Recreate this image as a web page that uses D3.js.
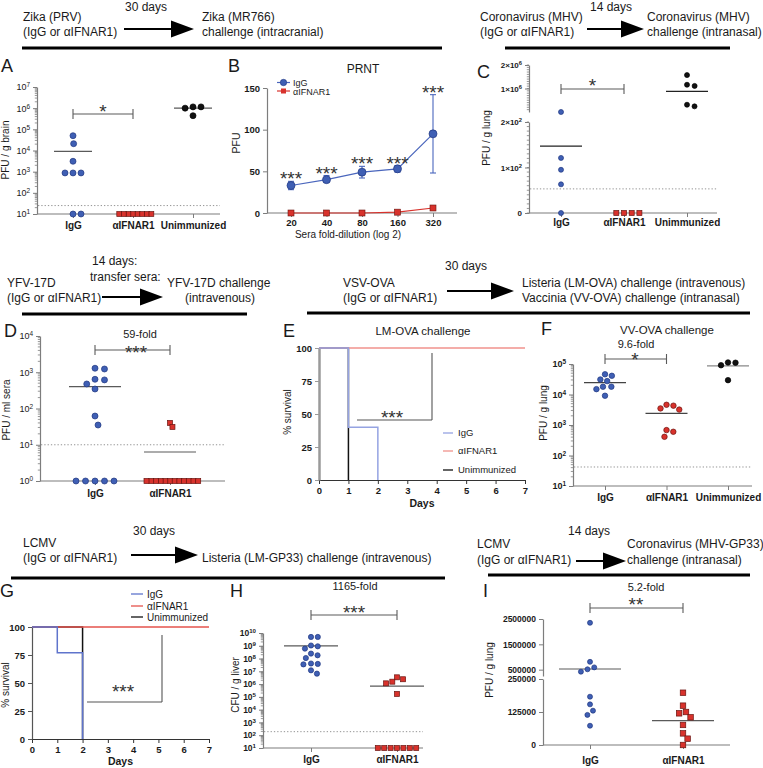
<!DOCTYPE html>
<html><head><meta charset="utf-8">
<script src="https://cdn.jsdelivr.net/npm/d3@7"></script>
<style>body{margin:0;background:#fff}svg{font-family:'Liberation Sans',Arial,Helvetica,sans-serif}</style>
</head><body>
<svg id="fig" width="763" height="768"></svg>
<script>
// ================= DATA =================
const groups3 = ["IgG", "αIFNAR1", "Unimmunized"];
const groups2 = ["IgG", "αIFNAR1"];

// A: Zika PFU / g brain
const aIgG = [5e4, 2.1e4, 3.1e3, 870, 870, 870, 10, 10];
const aAnti = [10, 10, 10, 10, 10, 10, 10, 10];
const aUnimm = [1.15e6, 1.0e6, 1.15e6, 4.4e5];
const aMedians = [9e3, null, 1e6];
const aLimit = 25;
const aTicks = [1e1, 1e2, 1e3, 1e4, 1e5, 1e6, 1e7];

// B: PRNT
const bDilutions = ["20", "40", "80", "160", "320"];
const bIgG = [33, 40, 49, 53, 95];
const bIgGLo = [28, 37, 42, 49, 48];
const bIgGHi = [38, 45, 56, 57, 142];
const bAnti = [0, 0, 0, 1, 6];
const bTicks = [0, 50, 100, 150];

// C: MHV PFU / g lung (broken axis)
const cIgG = [250, 121, 95, 63, 0];
const cAnti = [0, 0, 0, 0];
const cUnimm = [1.57e6, 1.16e6, 1.11e6, 3.1e5, 2.4e5];
const cMedians = [147, null, 8.8e5];
const cLimit = 53;
const cTicksLow = [0, 100, 200];
const cTicksHigh = [1e6, 2e6];

// D: YFV PFU / ml sera
const dIgG = [1230, 1290, 615, 475, 640, 345, 62, 35, 1, 1, 1, 1, 1];
const dAnti = [40, 31, 1, 1, 1, 1, 1, 1, 1, 1, 1, 1, 1, 1];
const dMedians = [400, 6.3];
const dLimit = 10;
const dTicks = [1, 10, 100, 1e3, 1e4];

// E: LM-OVA survival
const survDays = [0, 1, 2, 3, 4, 5, 6, 7];
const survTicks = [0, 25, 50, 75, 100];
const eIgGT = [0, 1, 2], eIgGS = [100, 40, 0];
const eAntiT = [0, 7], eAntiS = [100, 100];
const eUnT = [0, 1], eUnS = [100, 0];

// F: VV-OVA PFU / g lung
const fIgG = [3.1e4, 4.1e4, 4.6e4, 2.75e4, 1.8e4, 1.8e4, 1.5e4, 9.1e3];
const fAnti = [4.6e3, 3.5e3, 3.2e3, 4.3e3, 680, 600, 410];
const fUnimm = [1.1e5, 9.1e4, 1.12e5, 2.95e4];
const fMedians = [2.45e4, 2.4e3, 8.7e4];
const fLimit = 42;
const fTicks = [1e1, 1e2, 1e3, 1e4, 1e5];

// G: LM-GP33 survival
const gIgGT = [0, 1, 2], gIgGS = [100, 77, 0];
const gAntiT = [0, 7], gAntiS = [100, 100];
const gUnT = [0, 2], gUnS = [100, 0];

// H: CFU / g liver
const hIgG = [4.9e9, 4.9e9, 9.1e8, 1.05e9, 6e8, 2.45e8, 1.8e8, 1.1e8, 3.8e7, 3.5e7, 4.1e7, 1.2e7, 6.6e6];
const hAnti = [2.4e6, 1.15e6, 1.55e6, 3.4e6, 1.7e5, 10, 10, 10, 10, 10, 10, 10];
const hMedians = [1e9, 7e5];
const hLimit = 190;
const hTicks = [1e1, 1e2, 1e3, 1e4, 1e5, 1e6, 1e7, 1e8, 1e9, 1e10];

// I: MHV-GP33 PFU / g lung (broken axis)
const iIgG = [2.35e6, 8.1e5, 5.9e5, 4.2e5, 5.15e5, 1.83e5, 1.54e5, 1.3e5, 1.14e5, 7.3e4];
const iAnti = [1.98e5, 1.49e5, 1.25e5, 1.2e5, 1.05e5, 7.6e4, 4.4e4, 2.4e4, 0];
const iMedians = [5.26e5, 9.2e4];
const iTicksLow = [0, 125000, 250000];
const iTicksHigh = [500000, 1500000, 2500000];

// ================= HELPERS =================
const svg = d3.select("#fig");
svg.append("rect").attr("width", 763).attr("height", 768).attr("fill", "#fff");
const FONT = "'Liberation Sans', Arial, Helvetica, sans-serif";
const INK = "#1a1a1a", AXC = "#7d7d7d", MED = "#5a5a5a";
const BLUE = "#3f5fb4", BLUES = "#1f3680", RED = "#d8322c", REDS = "#6a1410", BLK = "#111";

function txt(x, y, s, o = {}) {
  const t = svg.append("text").attr("x", x).attr("y", y)
    .attr("font-size", o.size || 12).attr("font-weight", o.weight || "normal")
    .attr("text-anchor", o.anchor || "start").attr("fill", o.fill || INK).text(s);
  if (o.rot) t.attr("transform", `rotate(-90,${x},${y})`);
  return t;
}
function arrow(x1, x2, y) {
  svg.append("line").attr("x1", x1).attr("x2", x2 - 20).attr("y1", y).attr("y2", y)
    .attr("stroke", "#000").attr("stroke-width", 2);
  svg.append("path").attr("d", `M${x2 - 23},${y - 8.5}L${x2},${y}L${x2 - 23},${y + 8.5}Z`).attr("fill", "#000");
}
function rule(x1, x2, y) {
  svg.append("line").attr("x1", x1).attr("x2", x2).attr("y1", y).attr("y2", y)
    .attr("stroke", "#000").attr("stroke-width", 3);
}
function styleAx(g, size, bold, col) {
  g.attr("font-family", FONT).attr("font-size", size).attr("color", col || AXC);
  g.selectAll(".tick text").attr("fill", INK).attr("font-weight", bold ? "bold" : "normal");
  g.select(".domain").attr("stroke-width", 1.2);
}
function supTicks(g, fn) {
  g.selectAll(".tick text").each(function (d) {
    const t = d3.select(this); t.text(null);
    const [base, sup] = fn(d);
    t.append("tspan").text(base);
    if (sup !== null) t.append("tspan").attr("dy", "-0.45em").attr("font-size", "0.72em").text(sup);
  });
}
function leftAxis(x, scale, ticks, o = {}) {
  const g = svg.append("g").attr("transform", `translate(${x},0)`)
    .call(d3.axisLeft(scale).tickValues(ticks).tickSize(o.tick || 4).tickPadding(o.pad || 3).tickSizeOuter(0));
  styleAx(g, o.size || 9, o.bold, o.col);
  if (o.dw) g.select(".domain").attr("stroke-width", o.dw);
  if (o.fmt) supTicks(g, o.fmt);
  if (o.minor) {
    g.selectAll(".minor").data(o.minor).join("line").attr("class", "minor")
      .attr("x1", 0).attr("x2", -2.2).attr("y1", d => scale(d)).attr("y2", d => scale(d))
      .attr("stroke", o.col || AXC).attr("stroke-width", 0.8);
  }
  return g;
}
function logMinor(lo, hi) {
  const out = [];
  for (let e = Math.log10(lo); e < Math.log10(hi); e++)
    for (let m = 2; m <= 9; m++) out.push(m * Math.pow(10, e));
  return out;
}
const logFmt = d => ["10", String(Math.round(Math.log10(d)))];
function catAxis(y, xs, x0, x1, o = {}) {
  const g = svg.append("g").attr("transform", `translate(0,${y})`)
    .call(d3.axisBottom(xs).tickSize(4).tickPadding(o.pad == null ? 4 : o.pad).tickSizeOuter(0));
  g.select(".domain").remove();
  styleAx(g, o.size || 10, true);
  g.append("line").attr("x1", x0).attr("x2", x1).attr("stroke", AXC).attr("stroke-width", 1.2);
  return g;
}
function swarm(vals, yFn, cx, dist) {
  const pts = vals.map(v => ({ v, y: yFn(v) })).sort((a, b) => a.y - b.y);
  const placed = [];
  pts.forEach(p => {
    const cands = [0];
    placed.forEach(q => {
      const dy = p.y - q.y;
      if (Math.abs(dy) < dist) {
        const dx = Math.sqrt(dist * dist - dy * dy);
        cands.push(q.off + dx, q.off - dx);
      }
    });
    cands.sort((a, b) => Math.abs(a) - Math.abs(b) || b - a);
    for (const c of cands) {
      if (placed.every(q => (c - q.off) ** 2 + (p.y - q.y) ** 2 >= dist * dist - 0.01)) { p.off = c; break; }
    }
    placed.push(p);
  });
  return placed.map(p => ({ v: p.v, x: cx + p.off, y: p.y }));
}
function drawPts(vals, yFn, cx, shape, fill, stroke, size, dist) {
  const pts = swarm(vals, yFn, cx, dist);
  if (shape === "circle") {
    svg.append("g").selectAll("circle").data(pts).join("circle")
      .attr("cx", d => d.x).attr("cy", d => d.y).attr("r", size / 2)
      .attr("fill", fill).attr("stroke", stroke).attr("stroke-width", 0.7);
  } else {
    svg.append("g").selectAll("rect").data(pts).join("rect")
      .attr("x", d => d.x - size / 2).attr("y", d => d.y - size / 2).attr("width", size).attr("height", size)
      .attr("fill", fill).attr("stroke", stroke).attr("stroke-width", 0.7);
  }
}
function median(v, yFn, cx, hw, col) {
  if (v == null) return;
  svg.append("line").attr("x1", cx - hw).attr("x2", cx + hw).attr("y1", yFn(v)).attr("y2", yFn(v))
    .attr("stroke", col || MED).attr("stroke-width", 1.2);
}
function limit(y, x0, x1) {
  svg.append("line").attr("x1", x0).attr("x2", x1).attr("y1", y).attr("y2", y)
    .attr("stroke", "#888").attr("stroke-width", 0.9).attr("stroke-dasharray", "1.3,2");
}
function bracket(x1, x2, y) {
  const g = svg.append("g").attr("stroke", MED).attr("stroke-width", 1.1);
  g.append("line").attr("x1", x1).attr("x2", x2).attr("y1", y).attr("y2", y);
  g.append("line").attr("x1", x1).attr("x2", x1).attr("y1", y - 5).attr("y2", y + 5);
  g.append("line").attr("x1", x2).attr("x2", x2).attr("y1", y - 5).attr("y2", y + 5);
}
function stars(x, y, s) { txt(x, y, s, { size: 19, anchor: "middle", fill: "#333" }); }

// ================= HEADERS =================
txt(23, 21, "Zika (PRV)"); txt(23, 36, "(IgG or αIFNAR1)");
txt(125, 11, "30 days"); arrow(124, 194, 29);
txt(202, 21, "Zika (MR766)"); txt(202, 36, "challenge (intracranial)");
rule(22, 442, 48);

txt(480, 21, "Coronavirus (MHV)"); txt(480, 36, "(IgG or αIFNAR1)");
txt(590, 11, "14 days"); arrow(587, 644, 29);
txt(647, 21, "Coronavirus (MHV)"); txt(647, 36, "challenge (intranasal)");
rule(505, 730, 48);

txt(92, 265, "14 days:"); txt(90, 281, "transfer sera:");
txt(7, 287, "YFV-17D"); txt(7, 302, "(IgG or αIFNAR1)");
arrow(102, 163, 297);
txt(167, 287, "YFV-17D challenge"); txt(185, 302, "(intravenous)");
rule(22, 247, 314);

txt(445, 270, "30 days");
txt(343, 287, "VSV-OVA"); txt(343, 302, "(IgG or αIFNAR1)");
arrow(447, 514, 291);
txt(522, 287, "Listeria (LM-OVA) challenge (intravenous)");
txt(522, 302, "Vaccinia (VV-OVA) challenge (intranasal)");
rule(307, 750, 313);

txt(133, 535, "30 days");
txt(23, 547, "LCMV"); txt(23, 562, "(IgG or αIFNAR1)");
arrow(131, 198, 555);
txt(202, 562, "Listeria (LM-GP33) challenge (intravenous)");
rule(11, 445, 578);

txt(568, 535, "14 days");
txt(477, 548, "LCMV"); txt(477, 564, "(IgG or αIFNAR1)");
arrow(576, 626, 561);
txt(627, 548, "Coronavirus (MHV-GP33)"); txt(627, 564, "challenge (intranasal)");
rule(488, 750, 575);

// panel letters
[["A", 1, 72], ["B", 228, 72], ["C", 477, 78], ["D", 4, 337], ["E", 283, 337], ["F", 541, 335],
 ["G", 0, 597], ["H", 230, 597], ["I", 483, 597]].forEach(([l, x, y]) => txt(x, y, l, { size: 18 }));

// ================= PANEL A =================
{
  const y = d3.scaleLog().domain([10, 1e7]).range([214, 87]);
  const x = d3.scalePoint().domain(groups3).range([73, 193]);
  leftAxis(37, y, aTicks, { fmt: logFmt, minor: logMinor(10, 1e7), size: 9 });
  catAxis(214, x, 37, 220, { pad: 4 });
  limit(y(aLimit), 38, 220);
  groups3.forEach((gname, i) => median(aMedians[i], y, x(gname), 19));
  drawPts(aIgG, y, x("IgG"), "circle", BLUE, BLUES, 6, 8);
  drawPts(aAnti, y, x("αIFNAR1"), "rect", RED, REDS, 4.8, 4.6);
  drawPts(aUnimm, y, x("Unimmunized"), "circle", BLK, "#000", 6, 8);
  bracket(x("IgG"), x("αIFNAR1"), 114);
  stars((x("IgG") + x("αIFNAR1")) / 2, 118, "*");
  txt(8.5, 150, "PFU / g brain", { size: 10, rot: true, anchor: "middle" });
}

// ================= PANEL B =================
{
  const y = d3.scaleLinear().domain([0, 150]).range([213, 88]);
  const x = d3.scalePoint().domain(bDilutions).range([291, 433]);
  leftAxis(267, y, bTicks, { bold: true, size: 9.5 });
  catAxis(213, x, 267, 457, { pad: 2.5, size: 9.5 });
  txt(348, 238, "Sera fold-dilution (log 2)", { size: 10, anchor: "middle" });
  txt(240, 143, "PFU", { size: 10.5, rot: true, anchor: "middle" });
  txt(363, 73, "PRNT", { size: 12, anchor: "middle" });
  const line = d3.line().x((d, i) => x(bDilutions[i])).y(d => y(d));
  svg.append("path").attr("d", line(bAnti)).attr("fill", "none").attr("stroke", RED).attr("stroke-width", 1.2);
  svg.append("path").attr("d", line(bIgG)).attr("fill", "none").attr("stroke", "#4a66bd").attr("stroke-width", 1.2);
  const eb = svg.append("g").attr("stroke", "#4a66bd").attr("stroke-width", 1.1);
  bDilutions.forEach((dl, i) => {
    const cx = x(dl);
    eb.append("line").attr("x1", cx).attr("x2", cx).attr("y1", y(bIgGLo[i])).attr("y2", y(bIgGHi[i]));
    [bIgGLo[i], bIgGHi[i]].forEach(v => eb.append("line").attr("x1", cx - 3).attr("x2", cx + 3).attr("y1", y(v)).attr("y2", y(v)));
    stars(cx, y(bIgGHi[i]) + 4, "***");
  });
  svg.append("g").selectAll("circle").data(bIgG).join("circle")
    .attr("cx", (d, i) => x(bDilutions[i])).attr("cy", d => y(d)).attr("r", 4)
    .attr("fill", BLUE).attr("stroke", BLUES).attr("stroke-width", 0.7);
  svg.append("g").selectAll("rect").data(bAnti).join("rect")
    .attr("x", (d, i) => x(bDilutions[i]) - 3).attr("y", d => y(d) - 3).attr("width", 6).attr("height", 6)
    .attr("fill", RED).attr("stroke", REDS).attr("stroke-width", 0.6);
  // legend
  svg.append("line").attr("x1", 277).attr("x2", 290).attr("y1", 82.5).attr("y2", 82.5).attr("stroke", "#4a66bd").attr("stroke-width", 1.2);
  svg.append("circle").attr("cx", 283.5).attr("cy", 82.5).attr("r", 3.2).attr("fill", BLUE).attr("stroke", BLUES).attr("stroke-width", 0.6);
  svg.append("line").attr("x1", 277).attr("x2", 290).attr("y1", 91).attr("y2", 91).attr("stroke", RED).attr("stroke-width", 1.2);
  svg.append("rect").attr("x", 281).attr("y", 88.5).attr("width", 5).attr("height", 5).attr("fill", RED);
  txt(293, 85.5, "IgG", { size: 9 });
  txt(293, 94.5, "αIFNAR1", { size: 9 });
}

// ================= PANEL C =================
{
  const yl = d3.scaleLinear().domain([0, 200]).range([213, 122]);
  const yu = d3.scaleLinear().domain([200, 2e6]).range([112, 65]);
  const y = v => (v <= 200 ? yl(v) : yu(v));
  const x = d3.scalePoint().domain(groups3).range([561, 687]);
  leftAxis(529, yl, cTicksLow, { bold: true, size: 8, minor: d3.range(0, 201, 10),
    fmt: d => (d === 0 ? ["0", null] : [`${d / 100}×10`, "2"]) });
  leftAxis(529, yu, cTicksHigh, { bold: true, size: 8, minor: d3.range(1e5, 2e6 + 1, 1e5),
    fmt: d => [`${d / 1e6}×10`, "6"] });
  catAxis(213, x, 529, 717, { pad: 2 });
  limit(y(cLimit), 530, 717);
  groups3.forEach((gname, i) => median(cMedians[i], y, x(gname), 21, "#222"));
  drawPts(cIgG, y, x("IgG"), "circle", BLUE, BLUES, 5, 7);
  drawPts(cAnti, y, x("αIFNAR1"), "rect", RED, REDS, 5, 7.7);
  drawPts(cUnimm, y, x("Unimmunized"), "circle", BLK, "#000", 5, 7.7);
  bracket(x("IgG"), x("αIFNAR1"), 89);
  stars((x("IgG") + x("αIFNAR1")) / 2, 92, "*");
  txt(490, 138, "PFU / g lung", { size: 10, rot: true, anchor: "middle" });
}

// ================= PANEL D =================
{
  const y = d3.scaleLog().domain([1, 1e4]).range([481, 336]);
  const x = d3.scalePoint().domain(groups2).range([95, 170]);
  leftAxis(40, y, dTicks, { fmt: logFmt, minor: logMinor(1, 1e4), size: 9 });
  catAxis(481, x, 40, 225, { pad: 5 });
  limit(y(dLimit), 41, 225);
  groups2.forEach((gname, i) => median(dMedians[i], y, x(gname), 26));
  drawPts(dIgG, y, x("IgG"), "circle", BLUE, BLUES, 6, 9.5);
  drawPts(dAnti, y, x("αIFNAR1"), "rect", RED, REDS, 5, 4.7);
  bracket(x("IgG"), x("αIFNAR1"), 350);
  txt(140, 338, "59-fold", { size: 11, anchor: "middle" });
  stars(136, 359, "***");
  txt(10, 410, "PFU / ml sera", { size: 10, rot: true, anchor: "middle" });
}

// ================= SURVIVAL PANELS =================
function survival(o) {
  const x = d3.scaleLinear().domain([0, 7]).range(o.xr);
  const y = d3.scaleLinear().domain([0, 100]).range(o.yr);
  const gx = svg.append("g").attr("transform", `translate(0,${o.yr[0]})`)
    .call(d3.axisBottom(x).tickValues(survDays).tickFormat(d3.format("d")).tickSize(4).tickPadding(3).tickSizeOuter(0));
  styleAx(gx, 9.5, true, "#333");
  const gy = svg.append("g").attr("transform", `translate(${o.xr[0]},0)`)
    .call(d3.axisLeft(y).tickValues(survTicks).tickFormat(d3.format("d")).tickSize(4).tickPadding(3).tickSizeOuter(0));
  styleAx(gy, 9.5, true, o.ycol);
  gy.select(".domain").attr("stroke-width", o.yw);
  const line = d3.line().curve(d3.curveStepAfter).x(d => x(d[0])).y(d => y(d[1]));
  const series = [[o.unT, o.unS, "#111"], [o.antiT, o.antiS, o.redC], [o.igT, o.igS, o.blueC]];
  series.forEach(([t, s, c]) => svg.append("path").attr("d", line(t.map((v, i) => [v, s[i]])))
    .attr("fill", "none").attr("stroke", c).attr("stroke-width", 1.5));
  return { x, y };
}
{
  const s = survival({ xr: [319, 525], yr: [480, 348], ycol: "#9a9a9a", yw: 2.5,
    igT: eIgGT, igS: eIgGS, antiT: eAntiT, antiS: eAntiS, unT: eUnT, unS: eUnS,
    blueC: "#95a3e2", redC: "#f0928c" });
  txt(423, 335, "LM-OVA challenge", { size: 11.5, anchor: "middle" });
  txt(s.x(3.5), 507, "Days", { size: 10.5, weight: "bold", anchor: "middle" });
  txt(291, 412, "% survival", { size: 10, rot: true, anchor: "middle" });
  const b = svg.append("g").attr("stroke", "#555").attr("stroke-width", 1.1);
  b.append("line").attr("x1", 432).attr("x2", 432).attr("y1", 353).attr("y2", 420);
  b.append("line").attr("x1", 357).attr("x2", 432).attr("y1", 420).attr("y2", 420);
  stars(392, 424, "***");
  [["IgG", "#95a3e2", 433], ["αIFNAR1", "#f0928c", 451], ["Unimmunized", "#111", 470]].forEach(([l, c, yy]) => {
    svg.append("line").attr("x1", 443).attr("x2", 453).attr("y1", yy).attr("y2", yy).attr("stroke", c).attr("stroke-width", 1.3);
    txt(458, yy + 3.3, l, { size: 9.5 });
  });
}
{
  const s = survival({ xr: [32, 209], yr: [739, 627], ycol: "#555", yw: 1.2,
    igT: gIgGT, igS: gIgGS, antiT: gAntiT, antiS: gAntiS, unT: gUnT, unS: gUnS,
    blueC: "#5f74cc", redC: "#e5534c" });
  txt(s.x(3.5), 765, "Days", { size: 10.5, weight: "bold", anchor: "middle" });
  txt(9, 685, "% survival", { size: 10, rot: true, anchor: "middle" });
  const b = svg.append("g").attr("stroke", "#555").attr("stroke-width", 1.1);
  b.append("line").attr("x1", 162).attr("x2", 162).attr("y1", 635).attr("y2", 702);
  b.append("line").attr("x1", 87).attr("x2", 162).attr("y1", 702).attr("y2", 702);
  stars(123, 698, "***");
  [["IgG", "#5f74cc", 594], ["αIFNAR1", "#e5534c", 606], ["Unimmunized", "#111", 617]].forEach(([l, c, yy]) => {
    svg.append("line").attr("x1", 131).attr("x2", 143).attr("y1", yy).attr("y2", yy).attr("stroke", c).attr("stroke-width", 1.3);
    txt(147, yy + 3.5, l, { size: 10 });
  });
}

// ================= PANEL F =================
{
  const y = d3.scaleLog().domain([10, 1e5]).range([486, 364]);
  const x = d3.scalePoint().domain(groups3).range([605, 728]);
  leftAxis(573, y, fTicks, { fmt: logFmt, minor: logMinor(10, 1e5), size: 9, bold: true });
  catAxis(486, x, 573, 752, { pad: 4 });
  limit(y(fLimit), 574, 752);
  groups3.forEach((gname, i) => median(fMedians[i], y, x(gname), 21, i === 2 ? "#888" : "#444"));
  drawPts(fIgG, y, x("IgG"), "circle", BLUE, BLUES, 5.5, 7);
  drawPts(fAnti, y, x("αIFNAR1"), "circle", RED, REDS, 5.5, 7);
  drawPts(fUnimm, y, x("Unimmunized"), "circle", BLK, "#000", 5.5, 7.5);
  bracket(x("IgG"), x("αIFNAR1"), 359);
  txt(667, 334, "VV-OVA challenge", { size: 11.5, anchor: "middle" });
  txt(636, 348, "9.6-fold", { size: 11, anchor: "middle" });
  stars(635, 366, "*");
  txt(547, 413, "PFU / g lung", { size: 10, rot: true, anchor: "middle" });
}

// ================= PANEL H =================
{
  const y = d3.scaleLog().domain([10, 1e10]).range([748, 633]);
  const x = d3.scalePoint().domain(groups2).range([311, 397]);
  leftAxis(263, y, hTicks, { fmt: logFmt, minor: logMinor(10, 1e10), size: 8.5, bold: true });
  catAxis(748, x, 263, 423, { pad: 4 });
  limit(y(hLimit), 264, 423);
  groups2.forEach((gname, i) => median(hMedians[i], y, x(gname), 27));
  drawPts(hIgG, y, x("IgG"), "circle", BLUE, BLUES, 5.2, 6.8);
  drawPts(hAnti, y, x("αIFNAR1"), "rect", RED, REDS, 5, 6.4);
  bracket(x("IgG"), x("αIFNAR1"), 615);
  txt(355, 590, "1165-fold", { size: 11, anchor: "middle" });
  stars(354, 619, "***");
  txt(239, 685, "CFU / g liver", { size: 10, rot: true, anchor: "middle" });
}

// ================= PANEL I =================
{
  const yl = d3.scaleLinear().domain([0, 250000]).range([745, 679]);
  const yu = d3.scaleLinear().domain([250000, 2500000]).range([676, 619]);
  const y = v => (v <= 250000 ? yl(v) : yu(v));
  const x = d3.scalePoint().domain(groups2).range([590, 683]);
  leftAxis(543, yl, iTicksLow, { bold: true, size: 8.5, fmt: d => [String(d), null] });
  leftAxis(543, yu, iTicksHigh, { bold: true, size: 8.5, fmt: d => [String(d), null] });
  catAxis(745, x, 543, 730, { pad: 8 });
  groups2.forEach((gname, i) => median(iMedians[i], y, x(gname), 31));
  drawPts(iIgG, y, x("IgG"), "circle", BLUE, BLUES, 5, 7);
  drawPts(iAnti, y, x("αIFNAR1"), "rect", RED, REDS, 5.5, 7);
  bracket(x("IgG"), x("αIFNAR1"), 608);
  txt(646, 591, "5.2-fold", { size: 11, anchor: "middle" });
  stars(636, 611, "**");
  txt(493, 670, "PFU / g lung", { size: 10, rot: true, anchor: "middle" });
}
</script></body></html>
